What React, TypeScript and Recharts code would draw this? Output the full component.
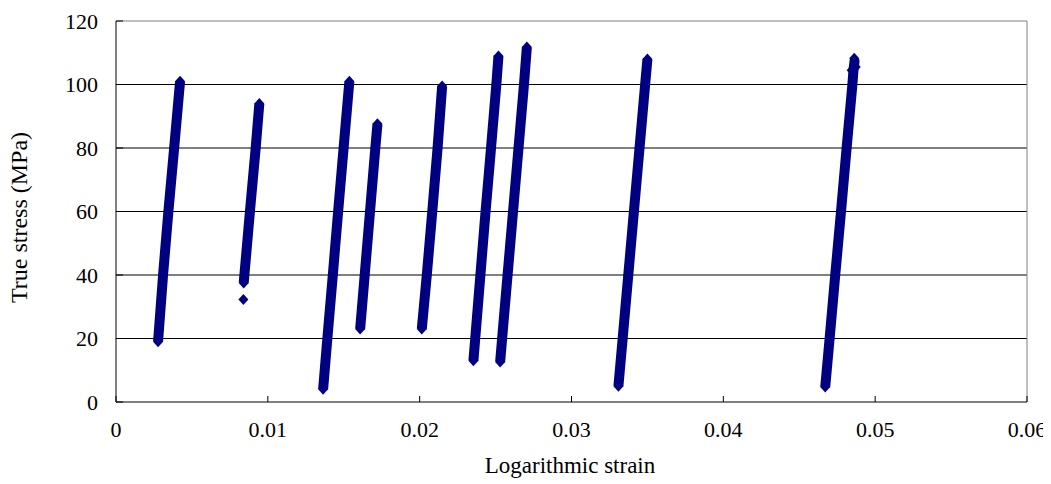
import React from 'react';
import { ScatterChart, Scatter, XAxis, YAxis, ReferenceLine } from 'recharts';

const xTicks = [0, 0.01, 0.02, 0.03, 0.04, 0.05, 0.06];
const yTicks = [0, 20, 40, 60, 80, 100, 120];
const gridValues = [20, 40, 60, 80, 100];

// [logarithmic strain, true stress (MPa)] read along each loading band
const seg1 = [[0.00277, 19], [0.0031, 40], [0.00345, 60], [0.00383, 80], [0.00422, 101]];
const seg2 = [[0.00841, 37.5], [0.00883, 60.5], [0.0092, 80], [0.00944, 94]];
const seg3 = [[0.01364, 4], [0.01392, 20], [0.01428, 40], [0.01463, 60], [0.01499, 80], [0.01537, 101]];
const seg4 = [[0.01608, 23], [0.01638, 40], [0.01673, 60], [0.01708, 80], [0.01722, 87.6]];
const seg5 = [[0.02014, 23], [0.02047, 40], [0.02083, 60], [0.02118, 80], [0.02148, 99.5]];
const seg6 = [[0.02354, 13], [0.02366, 20], [0.024, 40], [0.02434, 60], [0.0247, 80], [0.02505, 100], [0.02519, 109]];
const seg7 = [[0.0253, 12.6], [0.02543, 20], [0.02579, 40], [0.02615, 60], [0.02651, 80], [0.02687, 100], [0.02706, 111.8]];
const seg8 = [[0.03309, 5], [0.03337, 20], [0.03374, 40], [0.03411, 60], [0.03448, 80], [0.03485, 100], [0.035, 108]];
const seg9 = [[0.04671, 4.7], [0.047, 20], [0.04737, 40], [0.04775, 60], [0.04812, 80], [0.0485, 100], [0.04858, 105], [0.04865, 107.7]];
const loosePoints = [[0.00839, 32.3], [0.04845, 104.5], [0.04872, 105.5], [0.04862, 108.3]];

const segments = [seg1, seg2, seg3, seg4, seg5, seg6, seg7, seg8, seg9];

const toPts = (s: number[][]) => s.map(([x, y]) => ({ strain: x, stress: y }));

const NAVY = '#000080';
const FONT = '"Liberation Serif", "Times New Roman", serif';

const Diamond = (props: any) => {
  const { cx, cy } = props;
  if (cx == null || cy == null) return null;
  return (
    <path
      d={`M${cx},${cy - 5.5}L${cx + 5},${cy}L${cx},${cy + 5.5}L${cx - 5},${cy}Z`}
      fill={NAVY}
    />
  );
};

const XTick = (props: any) => {
  const { x, y, payload } = props;
  return (
    <g>
      <line x1={x} y1={y} x2={x} y2={y - 6} stroke="#000" strokeWidth={1} />
      <text x={x} y={y + 35} textAnchor="middle" fontSize={22} fill="#000" fontFamily={FONT}>
        {String(payload.value)}
      </text>
    </g>
  );
};

const YTick = (props: any) => {
  const { x, y, payload } = props;
  return (
    <g>
      <line x1={x} y1={y} x2={x + 7} y2={y} stroke="#000" strokeWidth={1} />
      <text x={x - 18} y={y} dy="0.35em" textAnchor="end" fontSize={22} fill="#000" fontFamily={FONT}>
        {String(payload.value)}
      </text>
    </g>
  );
};

export default function App() {
  return (
    <div style={{ width: 1043, height: 476, background: '#fff' }}>
      <ScatterChart
        width={1043}
        height={476}
        margin={{ top: 13, right: 24, bottom: 0, left: 48 }}
        style={{ fontFamily: FONT }}
      >
        <XAxis
          type="number"
          dataKey="strain"
          domain={[0, 0.06]}
          ticks={xTicks}
          interval={0}
          height={82}
          tickSize={0}
          tickMargin={0}
          tickLine={false}
          axisLine={{ stroke: '#000', strokeWidth: 1 }}
          tick={<XTick />}
          allowDataOverflow
          label={{
            content: () => (
              <text x={562} y={465} textAnchor="middle" fontSize={23} fill="#000" fontFamily={FONT}>
                Logarithmic strain
              </text>
            ),
          }}
        />
        <YAxis
          type="number"
          dataKey="stress"
          domain={[0, 120]}
          ticks={yTicks}
          interval={0}
          width={60}
          tickSize={0}
          tickMargin={0}
          tickLine={false}
          axisLine={{ stroke: '#000', strokeWidth: 1 }}
          tick={<YTick />}
          allowDataOverflow
          label={{
            content: () => (
              <text
                x={19}
                y={209.5}
                transform="rotate(-90 19 209.5)"
                textAnchor="middle"
                fontSize={24}
                fill="#000"
                fontFamily={FONT}
              >
                True stress (MPa)
              </text>
            ),
          }}
        />
        {gridValues.map((v) => (
          <ReferenceLine key={v} y={v} stroke="#000" strokeWidth={1} />
        ))}
        <ReferenceLine y={120} stroke="#808080" strokeWidth={1} />
        <ReferenceLine x={0.06} stroke="#808080" strokeWidth={1} />
        {segments.map((s, i) => (
          <Scatter
            key={i}
            data={toPts(s)}
            fill={NAVY}
            line={{ stroke: NAVY, strokeWidth: 10, strokeLinejoin: 'round' }}
            shape={<Diamond />}
            isAnimationActive={false}
          />
        ))}
        <Scatter data={toPts(loosePoints)} fill={NAVY} shape={<Diamond />} isAnimationActive={false} />
      </ScatterChart>
    </div>
  );
}
